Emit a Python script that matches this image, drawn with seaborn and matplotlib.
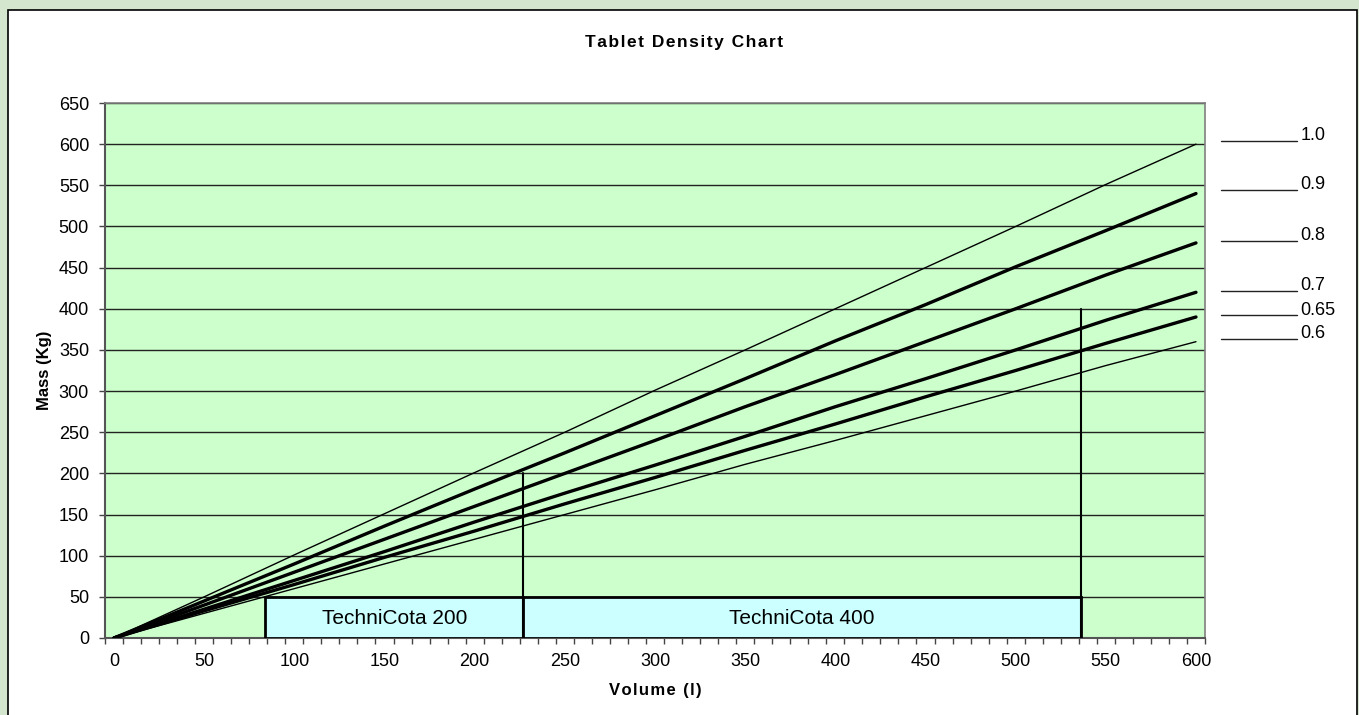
import numpy as np
import pandas as pd
import matplotlib
matplotlib.use("Agg")
import matplotlib.pyplot as plt
from matplotlib.patches import Rectangle
import seaborn as sns

# Volume (l) e massa (kg), por densidade
volume = [0, 50, 100, 150, 200, 250, 300, 350, 400, 450, 500, 550, 600]
mass_10 = [0, 50, 101, 151, 201, 250, 301, 350, 400, 450, 500, 551, 600]
mass_09 = [0, 45, 90, 136, 181, 225, 270, 315, 361, 405, 451, 495, 540]
mass_08 = [0, 40, 80, 120, 160, 200, 240, 281, 320, 360, 400, 441, 480]
mass_07 = [0, 35, 70, 105, 141, 176, 210, 245, 281, 315, 350, 386, 420]
mass_065 = [0, 33, 65, 98, 130, 163, 195, 228, 260, 293, 325, 358, 390]
mass_06 = [0, 30, 60, 90, 120, 150, 180, 211, 240, 270, 300, 331, 360]

densities = ["1.0", "0.9", "0.8", "0.7", "0.65", "0.6"]
series = [mass_10, mass_09, mass_08, mass_07, mass_065, mass_06]
widths = [1.0, 2.4, 2.4, 2.4, 2.4, 1.0]

# Faixas dos equipamentos
products = ["TechniCota 200", "TechniCota 400"]
prod_start = [84, 227]
prod_end = [227, 536]
prod_limit = [200, 400]

sns.set_style("white")
plt.rcParams["font.family"] = ["Liberation Sans", "DejaVu Sans"]
plt.rcParams["text.color"] = "black"
plt.rcParams["axes.labelcolor"] = "black"
plt.rcParams["xtick.color"] = "black"
plt.rcParams["ytick.color"] = "black"

fig = plt.figure(figsize=(13.59, 7.15), dpi=100)
fig.patch.set_facecolor("#D5E6CF")
fig.patches.append(Rectangle((8 / 1359, -0.02), 1349 / 1359, 1 - 10 / 715 + 0.02,
                             transform=fig.transFigure, facecolor="white",
                             edgecolor="black", lw=1.2, zorder=-5))

ax = fig.add_axes([105 / 1359, 1 - 638 / 715, 1100 / 1359, 535 / 715])
ax.set_zorder(2)
ax.set_facecolor("#CCFFCC")

for dens, m, w in zip(densities, series, widths):
    df = pd.DataFrame({"volume": volume, "mass": m})
    sns.lineplot(data=df, x="volume", y="mass", color="black", lw=w, ax=ax, zorder=4)

# Caixas dos produtos
for name, x0, x1, lim in zip(products, prod_start, prod_end, prod_limit):
    ax.add_patch(Rectangle((x0, 0), x1 - x0, 50, facecolor="#CCFFFF",
                           edgecolor="black", lw=2, zorder=3))
    ax.text((x0 + x1) / 2, 24, name, ha="center", va="center", fontsize=15, zorder=5)
    ax.plot([x1, x1], [0, lim], color="black", lw=1.5, zorder=5)

# Rótulos de densidade à direita
label_y = [604, 544, 482, 422, 392, 363]
for dens, y in zip(densities, label_y):
    ax.plot([614, 656], [y, y], color="#222222", lw=1, clip_on=False)
    ax.text(658, y + 1, dens, fontsize=13, va="baseline", ha="left", clip_on=False)

ax.set_xlim(-5, 605)
ax.set_ylim(0, 650)
ax.set_yticks(np.arange(0, 651, 50))
ax.set_xticks(np.arange(0, 601, 50))
ax.set_xticks(np.arange(-5, 606, 10), minor=True)
ax.tick_params(axis="x", which="major", bottom=True, length=0, pad=11, labelsize=13)
ax.tick_params(axis="x", which="minor", bottom=True, length=4.5, width=1,
               color="#444444", direction="out")
ax.tick_params(axis="y", left=True, length=4.5, width=1, color="#444444",
               direction="out", pad=7, labelsize=13)
ax.grid(axis="y", color="#222222", lw=1)
ax.set_axisbelow(True)

for side in ["top", "right"]:
    ax.spines[side].set_color("#808080")
    ax.spines[side].set_linewidth(1.2)
for side in ["left", "bottom"]:
    ax.spines[side].set_color("#555555")
    ax.spines[side].set_linewidth(1.5)

ax.set_xlabel("\u200a".join("Volume (l)"), fontsize=12, fontweight="bold", labelpad=9)
ax.set_ylabel("Mass (Kg)", fontsize=12, fontweight="bold", labelpad=5)
fig.text(684 / 1359, 1 - 43 / 715, "\u200a".join("Tablet Density Chart"),
         ha="center", va="center", fontsize=12.5, fontweight="bold")

fig.savefig("out.png", dpi=100, facecolor=fig.get_facecolor())
